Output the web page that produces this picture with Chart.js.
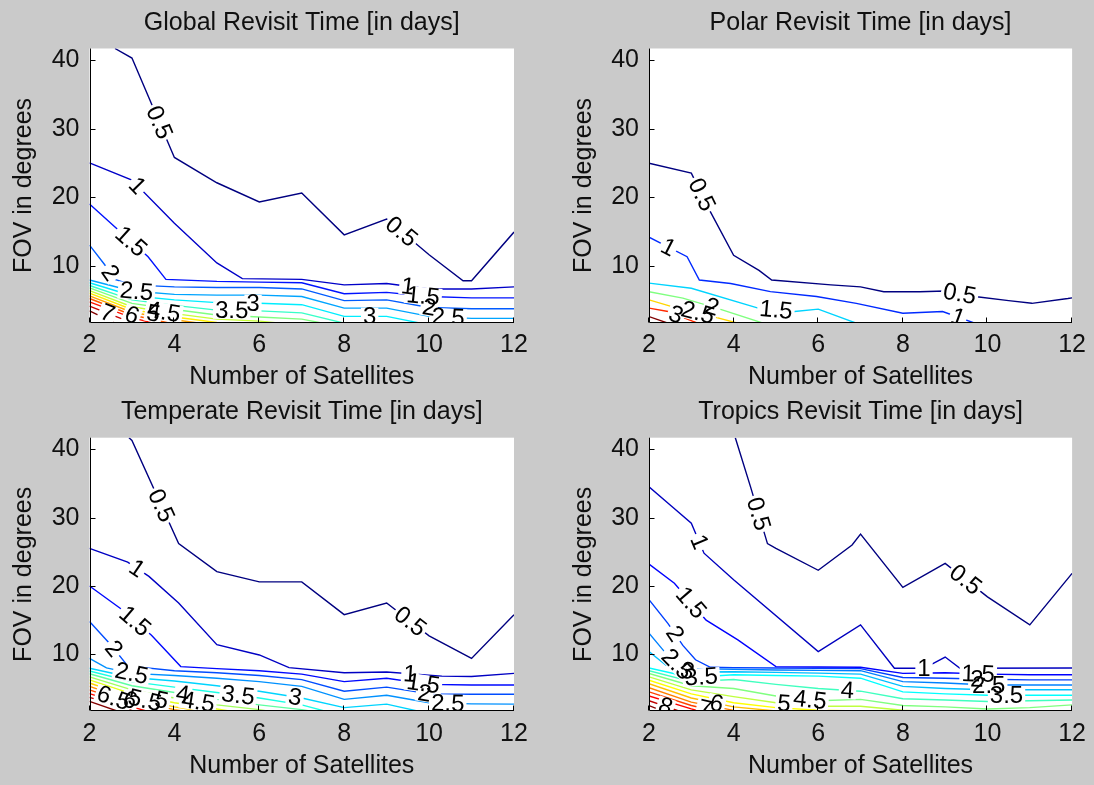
<!DOCTYPE html>
<html>
<head>
<meta charset="utf-8">
<script src="https://cdn.jsdelivr.net/npm/chart.js@4.4.1/dist/chart.umd.min.js"></script>
<style>
  html, body { margin: 0; padding: 0; background: #cacaca; }
  body { width: 1094px; height: 785px; position: relative; overflow: hidden; }
  canvas { position: absolute; }
</style>
</head>
<body>
<canvas id="cGlobal"></canvas>
<canvas id="cPolar"></canvas>
<canvas id="cTemperate"></canvas>
<canvas id="cTropics"></canvas>
<script>
// ---- axis data ----
const xTicks = [2, 4, 6, 8, 10, 12];
const yTicks = [10, 20, 30, 40];
const xRange = [2, 12];
const yRange = [1.7, 41.7];

// ---- contour lines: [level, [[satellites, fov], ...]] ----
const globalContours = [
  [0.5, [[2.6,41.7],[3,40.3],[4,25.8],[5,22.1],[6,19.3],[7,20.6],[8,14.5],[9,16.8],[10,11.6],[10.8,7.8],[11,7.8],[12,14.9]]],
  [1,   [[2,25],[3,22.5],[4,16.2],[5,10.4],[5.6,8.1],[7,8.0],[8,7.2],[9,7.4],[10,6.6],[11,6.6],[12,6.9]]],
  [1.5, [[2,19],[2.77,14.7],[3.38,11.3],[3.8,8.0],[5,7.7],[6,7.6],[7,7.5],[8,5.9],[9,6.1],[10,5.5],[11,5.3],[12,5.3]]],
  [2,   [[2,13],[2.35,10.2],[2.6,8.0],[3,7.2],[4,6.9],[5,6.8],[6,6.8],[7,6.6],[8,4.9],[9,5.0],[10,3.9],[11,3.7],[12,3.7]]],
  [2.5, [[2,7.9],[3,6.3],[4,5.8],[5,5.7],[6,5.7],[7,5.5],[8,3.8],[9,3.8],[10,2.6],[11,2.3],[12,2.3]]],
  [3,   [[2,7.5],[3,5.6],[4,5.0],[5,4.6],[6,4.5],[7,4.3],[8,2.6],[9,2.6],[9.8,1.6]]],
  [3.5, [[2,7.1],[3,5.0],[4,4.2],[5,3.5],[6,3.4],[7,3.1],[8,1.6]]],
  [4,   [[2,6.75],[3,4.5],[4,3.6],[5,2.8],[6,2.5],[7,2.2],[7.5,1.6]]],
  [4.5, [[2,6.35],[3,4.0],[4,3.0],[5,2.2],[6,1.9],[6.5,1.6]]],
  [5,   [[2,6.0],[3,3.6],[4,2.5],[5,1.7],[5.2,1.6]]],
  [5.5, [[2,5.6],[3,3.2],[4,2.1],[4.6,1.6]]],
  [6,   [[2,5.2],[3,2.8],[3.9,1.6]]],
  [6.5, [[2,4.7],[3,2.4],[3.5,1.6]]],
  [7,   [[2,4.1],[2.9,1.9],[3.1,1.6]]],
  [7.5, [[2,3.4],[2.6,1.6]]]
];
const globalLabels = [
  ['0.5',3.6,30.8],['0.5',9.3,14.6],['1',3.15,21.8],['1.5',2.96,13.4],['2',2.5,9.0],
  ['2.5',3.11,6.4],['7',2.4,2.7],['6',3.0,2.8],['5',3.5,2.9],['4.5',3.75,3.1],
  ['3.5',5.35,3.3],['3',5.85,4.3],['1',9.5,7.0],['1.5',9.86,5.6],['2',10.0,3.9],
  ['2.5',10.45,2.6],['3',8.6,2.4]
];

const polarContours = [
  [0.5, [[2,24.95],[3,23.5],[3.43,18.1],[4,11.5],[4.6,9.3],[4.9,7.9],[6.3,7.2],[7,6.9],[7.55,6.2],[8.4,6.2],[9,6.3],[9.7,5.5],[10.5,4.9],[11.05,4.5],[11.9,5.2],[12,5.3]]],
  [1,   [[2,14.15],[2.9,11.3],[3.19,7.9],[3.93,7.4],[4.87,6.2],[5.96,5.5],[6.9,4.5],[8,3.05],[8.94,3.3],[9.7,1.6]]],
  [1.5, [[2,7.45],[3,6.7],[4.58,3.8],[5.44,3.3],[6,3.65],[6.9,1.6]]],
  [2,   [[2,6.2],[2.8,5.25],[3.73,3.55],[4.7,1.6]]],
  [2.5, [[2,5.0],[2.5,4.1],[3,3.4],[4.1,1.6]]],
  [3,   [[2,3.8],[2.45,3.3],[3.15,1.6]]],
  [3.5, [[2,2.56],[2.45,1.6]]]
];
const polarLabels = [
  ['0.5',3.23,20.3],['0.5',9.34,5.8],['1',2.45,12.6],['1',9.3,2.4],['1.5',5.0,3.5],
  ['2',3.5,4.2],['2.5',3.15,3.0],['3',2.63,2.7]
];

const temperateContours = [
  [0.5, [[2.93,41.7],[3,41.3],[4.1,26.2],[5,22.1],[6,20.6],[7,20.6],[8,15.8],[9,17.5],[10,12.7],[11,9.4],[12,15.8]]],
  [1,   [[2,25.5],[2.9,23.5],[3.4,21.4],[4.1,17.5],[5,11.4],[6,9.9],[6.7,8.05],[8,7.3],[9,7.4],[10.3,6.8],[11,6.75],[12,7.2]]],
  [1.5, [[2,20],[2.73,16.7],[3.46,12.8],[4.15,8.2],[5,7.9],[6,7.6],[7,7.1],[8,6.0],[9,6.5],[10,5.6],[11,5.5],[12,5.5]]],
  [2,   [[2,14.8],[2.5,11.4],[2.9,8.3],[4,7.6],[5,7.3],[6,6.9],[7,6.3],[8,4.6],[9,5.2],[10,4.2],[11,4.15],[12,4.15]]],
  [2.5, [[2,9.4],[2.4,8.0],[3,7.2],[4,6.9],[5,6.5],[6,6.0],[7,5.3],[8,3.4],[9,4.0],[10,2.9],[11,2.75],[12,2.7]]],
  [3,   [[2,7.95],[3,6.6],[4,6.1],[5,5.4],[6,4.6],[7,3.6],[8,2.2],[9,2.7],[9.8,1.6]]],
  [3.5, [[2,7.55],[3,6.0],[4,5.2],[5,4.4],[6,3.6],[7,2.6],[7.6,1.6]]],
  [4,   [[2,7.15],[3,5.4],[4,4.4],[5,3.4],[6,2.6],[7,1.9],[7.3,1.6]]],
  [4.5, [[2,6.7],[3,4.8],[4,3.6],[5,2.6],[6,1.9],[6.3,1.6]]],
  [5,   [[2,6.25],[3,4.2],[4,2.9],[5,2.0],[5.4,1.6]]],
  [5.5, [[2,5.8],[3,3.7],[4,2.3],[4.7,1.6]]],
  [6,   [[2,5.3],[3,3.2],[4,1.9],[4.3,1.6]]],
  [6.5, [[2,4.8],[3,2.7],[3.8,1.6]]],
  [7,   [[2,4.25],[3,2.3],[3.4,1.6]]],
  [7.5, [[2,3.7],[3,1.9],[3.2,1.6]]],
  [8,   [[2,3.1],[2.7,1.6]]]
];
const temperateLabels = [
  ['0.5',3.72,31.85],['0.5',9.55,14.77],['1',3.1,22.4],['1.5',3.02,14.5],['2',2.57,10.8],
  ['2.5',2.99,7.2],['1',9.55,7.2],['1.5',9.87,5.9],['2',9.9,4.6],['2.5',10.44,2.9],
  ['3',6.84,3.6],['3.5',5.5,4.0],['4',4.2,4.2],['4.5',4.56,3.1],['5',3.7,3.3],
  ['5.5',3.3,3.2],['6',2.95,3.2],['6.5',2.55,3.3]
];

const tropicsContours = [
  [0.5, [[4.04,41.7],[4.4,34.5],[4.8,26.2],[5,25.5],[6,22.3],[6.8,26],[7,27.6],[8,19.8],[9,23.3],[10,18.4],[11,14.3],[12,21.85]]],
  [1,   [[2,34.5],[2.5,31.85],[3,29.2],[3.3,24.8],[4,20.9],[6,10.4],[7,14.3],[7.8,7.95],[8.5,7.95],[9,9.6],[9.35,7.95],[12,8.0]]],
  [1.5, [[2,23.2],[2.6,20.4],[3.35,15],[4.1,12.1],[5,8.2],[6,8.15],[7,8.1],[8,7.2],[9,7.3],[10,7.1],[11,7.0],[12,7.0]]],
  [2,   [[2,18],[2.45,14.5],[2.8,11.3],[3.1,9.2],[3.45,8.1],[4,8.05],[5,8.0],[6,7.95],[7,7.9],[8,6.6],[9,6.5],[10,6.35],[11,6.25],[12,6.25]]],
  [2.5, [[2,13.1],[2.35,10.5],[2.7,8.3],[3,7.9],[4,7.8],[5,7.7],[6,7.65],[7,7.6],[8,6.0],[9,5.8],[10,5.5],[11,5.5],[12,5.5]]],
  [3,   [[2,10.4],[2.4,8.4],[3,7.4],[4,7.45],[5,7.35],[6,7.25],[7,7.1],[8,5.3],[9,5.0],[10,4.8],[11,4.8],[12,4.8]]],
  [3.5, [[2,8.0],[3,6.6],[4,7.0],[5,6.9],[6,6.8],[7,6.5],[8,4.5],[9,4.2],[10,4.0],[11,4.0],[12,4.0]]],
  [4,   [[2,7.6],[3,6.0],[4,6.3],[5,5.6],[6,5.0],[7,4.6],[8,3.5],[9,3.3],[10,3.1],[11,3.2],[12,3.3]]],
  [4.5, [[2,7.2],[3,5.4],[4,5.0],[5,3.9],[6,3.2],[7,3.4],[8,2.5],[9,2.3],[10,2.0],[11,2.2],[12,2.6]]],
  [5,   [[2,6.7],[3,4.8],[4,3.8],[5,2.9],[6,2.4],[7,2.4],[8,1.8],[9,1.5]]],
  [5.5, [[2,6.2],[3,4.2],[4,2.9],[5,2.2],[6,1.8],[7,1.7],[7.5,1.5]]],
  [6,   [[2,5.7],[3,3.6],[4,2.3],[5,1.7],[5.5,1.5]]],
  [6.5, [[2,5.1],[3,3.0],[4,1.8],[4.3,1.5]]],
  [7,   [[2,4.5],[3,2.5],[3.7,1.5]]],
  [7.5, [[2,3.9],[3,2.0],[3.3,1.5]]],
  [8,   [[2,3.2],[2.8,1.5]]],
  [8.5, [[2,2.5],[2.4,1.5]]]
];
const tropicsLabels = [
  ['0.5',4.5,30.4],['0.5',9.43,20.5],['1',3.06,26.1],['1.5',2.99,17.5],['2',2.57,12.8],
  ['2.5',2.61,8.2],['3',2.9,7.4],['3.5',3.24,6.2],['8',2.41,2.72],['7',3.35,2.8],
  ['6',3.6,2.8],['5',5.19,2.6],['4.5',5.8,3.1],['4',6.69,4.6],['1',8.5,7.95],
  ['1.5',9.78,7.2],['2',9.75,6.4],['2.5',10.03,5.5],['3.5',10.45,4.0]
];

// ---- drawing helpers ----
const FONT = "'Liberation Sans', Arial, Helvetica, sans-serif";
const TEXT = '#101010';
const FS = 25;

function jet(t) {
  const c = v => Math.round(255 * Math.max(0, Math.min(1, v)));
  return `rgb(${c(1.5 - Math.abs(4 * t - 3))},${c(1.5 - Math.abs(4 * t - 2))},${c(1.5 - Math.abs(4 * t - 1))})`;
}

function nearestOnSegment(px, py, a, b) {
  const dx = b[0] - a[0], dy = b[1] - a[1];
  const len2 = dx * dx + dy * dy || 1;
  let t = ((px - a[0]) * dx + (py - a[1]) * dy) / len2;
  t = Math.max(0, Math.min(1, t));
  const qx = a[0] + t * dx, qy = a[1] + t * dy;
  return { qx, qy, d: Math.hypot(px - qx, py - qy), ang: Math.atan2(dy, dx) };
}

// white plot box, MATLAB-style axis lines with inward ticks
const axesPlugin = {
  id: 'matlabAxes',
  beforeDraw(chart) {
    const { ctx, chartArea: a } = chart;
    ctx.save();
    ctx.fillStyle = '#ffffff';
    ctx.fillRect(a.left, a.top, a.right - a.left, a.bottom - a.top);
    ctx.restore();
  },
  afterDraw(chart) {
    const { ctx, chartArea: a, scales: { x, y } } = chart;
    const L = Math.round(a.left) + 0.5, B = Math.round(a.bottom) - 0.5;
    ctx.save();
    ctx.strokeStyle = '#000';
    ctx.lineWidth = 1;
    ctx.beginPath();
    ctx.moveTo(L, a.top);
    ctx.lineTo(L, B);
    ctx.lineTo(Math.round(a.right), B);
    yTicks.forEach(v => {
      const py = Math.round(y.getPixelForValue(v)) + 0.5;
      ctx.moveTo(L, py); ctx.lineTo(L + 5, py);
    });
    xTicks.forEach(v => {
      const px = Math.round(x.getPixelForValue(v)) - 0.5;
      ctx.moveTo(px, B); ctx.lineTo(px, B - 5);
    });
    ctx.stroke();
    ctx.restore();
  }
};

// inline contour labels, rotated along their own contour line
const labelPlugin = {
  id: 'contourLabels',
  afterDatasetsDraw(chart, args, opts) {
    const { ctx, chartArea: a, scales: { x, y } } = chart;
    const size = opts.size;
    ctx.save();
    ctx.beginPath();
    ctx.rect(a.left, a.top, a.right - a.left, a.bottom - a.top);
    ctx.clip();
    ctx.font = `${size}px ${FONT}`;
    const items = [];
    opts.labels.forEach(([txt, lx, ly]) => {
      let px = x.getPixelForValue(lx), py = y.getPixelForValue(ly), ang = 0;
      const line = opts.contours.find(c => c[0] === parseFloat(txt));
      if (line) {
        const pts = line[1].map(p => [x.getPixelForValue(p[0]), y.getPixelForValue(p[1])]);
        let best = null;
        for (let i = 0; i < pts.length - 1; i++) {
          const r = nearestOnSegment(px, py, pts[i], pts[i + 1]);
          if (!best || r.d < best.d) best = r;
        }
        if (best) { px = best.qx; py = best.qy; ang = best.ang; }
      }
      if (ang > Math.PI / 2) ang -= Math.PI;
      if (ang < -Math.PI / 2) ang += Math.PI;
      items.push({ txt, px, py, ang, w: ctx.measureText(txt).width });
    });
    ctx.fillStyle = '#ffffff';
    items.forEach(it => {
      ctx.save();
      ctx.translate(it.px, it.py);
      ctx.rotate(it.ang);
      ctx.fillRect(-it.w / 2 - 2, -size * 0.36, it.w + 4, size * 0.72);
      ctx.restore();
    });
    ctx.fillStyle = '#000000';
    ctx.textAlign = 'center';
    ctx.textBaseline = 'middle';
    items.forEach(it => {
      ctx.save();
      ctx.translate(it.px, it.py);
      ctx.rotate(it.ang);
      ctx.fillText(it.txt, 0, 1);
      ctx.restore();
    });
    ctx.restore();
  }
};

// ---- panel layout (page pixels) ----
const panels = [
  { id: 'cGlobal',    title: 'Global Revisit Time [in days]',    contours: globalContours,    labels: globalLabels,
    left: 0,   top: 0,   w: 560, h: 389, areaLeft: 89.5, areaRight: 514,   areaTop: 48.5, areaBottom: 322.5, xTitlePad: 0 },
  { id: 'cPolar',     title: 'Polar Revisit Time [in days]',     contours: polarContours,     labels: polarLabels,
    left: 560, top: 0,   w: 534, h: 389, areaLeft: 89,   areaRight: 514.6, areaTop: 48.5, areaBottom: 322.5, xTitlePad: 0 },
  { id: 'cTemperate', title: 'Temperate Revisit Time [in days]', contours: temperateContours, labels: temperateLabels,
    left: 0,   top: 389, w: 560, h: 396, areaLeft: 89.5, areaRight: 514,   areaTop: 48.7, areaBottom: 322,   xTitlePad: 7 },
  { id: 'cTropics',   title: 'Tropics Revisit Time [in days]',   contours: tropicsContours,   labels: tropicsLabels,
    left: 560, top: 389, w: 534, h: 396, areaLeft: 89,   areaRight: 514.6, areaTop: 48.7, areaBottom: 322,   xTitlePad: 7 }
];

Chart.defaults.font.family = FONT;
Chart.defaults.color = TEXT;

panels.forEach(p => {
  const canvas = document.getElementById(p.id);
  canvas.width = p.w; canvas.height = p.h;
  canvas.style.left = p.left + 'px'; canvas.style.top = p.top + 'px';
  canvas.style.width = p.w + 'px'; canvas.style.height = p.h + 'px';

  const lo = p.contours[0][0], hi = p.contours[p.contours.length - 1][0];
  const datasets = p.contours.map(([level, pts]) => ({
    label: String(level),
    data: pts.map(([x, y]) => ({ x, y })),
    showLine: true,
    borderColor: jet((level - lo) / (hi - lo)),
    borderWidth: 1.4,
    pointRadius: 0,
    pointHoverRadius: 0,
    tension: 0,
    clip: 0
  }));

  new Chart(canvas, {
    type: 'scatter',
    data: { datasets },
    options: {
      responsive: false,
      animation: false,
      devicePixelRatio: 1,
      events: [],
      layout: { padding: { left: 0, right: p.w - p.areaRight, top: 0, bottom: 0 } },
      plugins: {
        legend: { display: false },
        tooltip: { enabled: false },
        title: {
          display: true, text: p.title, fullSize: false, color: TEXT,
          font: { size: FS, weight: 'normal', lineHeight: 1 },
          padding: { top: 10.5, bottom: p.areaTop - FS - 10.5 }
        },
        contourLabels: { labels: p.labels, contours: p.contours, size: 24 }
      },
      scales: {
        x: {
          type: 'linear', min: xRange[0], max: xRange[1],
          grid: { display: false, drawTicks: false },
          border: { display: false },
          ticks: { font: { size: FS }, color: TEXT, padding: 8, maxRotation: 0, autoSkip: false },
          afterBuildTicks: s => { s.ticks = xTicks.map(v => ({ value: v })); },
          afterFit: s => { s.height = p.h - p.areaBottom; },
          title: { display: true, text: 'Number of Satellites', color: TEXT,
                   font: { size: FS, lineHeight: 1 }, padding: { top: 0, bottom: p.xTitlePad - 0.5 } }
        },
        y: {
          type: 'linear', min: yRange[0], max: yRange[1],
          grid: { display: false, drawTicks: false },
          border: { display: false },
          ticks: { font: { size: FS }, color: TEXT, padding: 10, autoSkip: false },
          afterBuildTicks: s => { s.ticks = yTicks.map(v => ({ value: v })); },
          afterFit: s => { s.width = p.areaLeft; },
          title: { display: true, text: 'FOV in degrees', color: TEXT,
                   font: { size: FS, lineHeight: 1 }, padding: { top: 11.5, bottom: 0 } }
        }
      }
    },
    plugins: [axesPlugin, labelPlugin]
  });
});
</script>
</body>
</html>
